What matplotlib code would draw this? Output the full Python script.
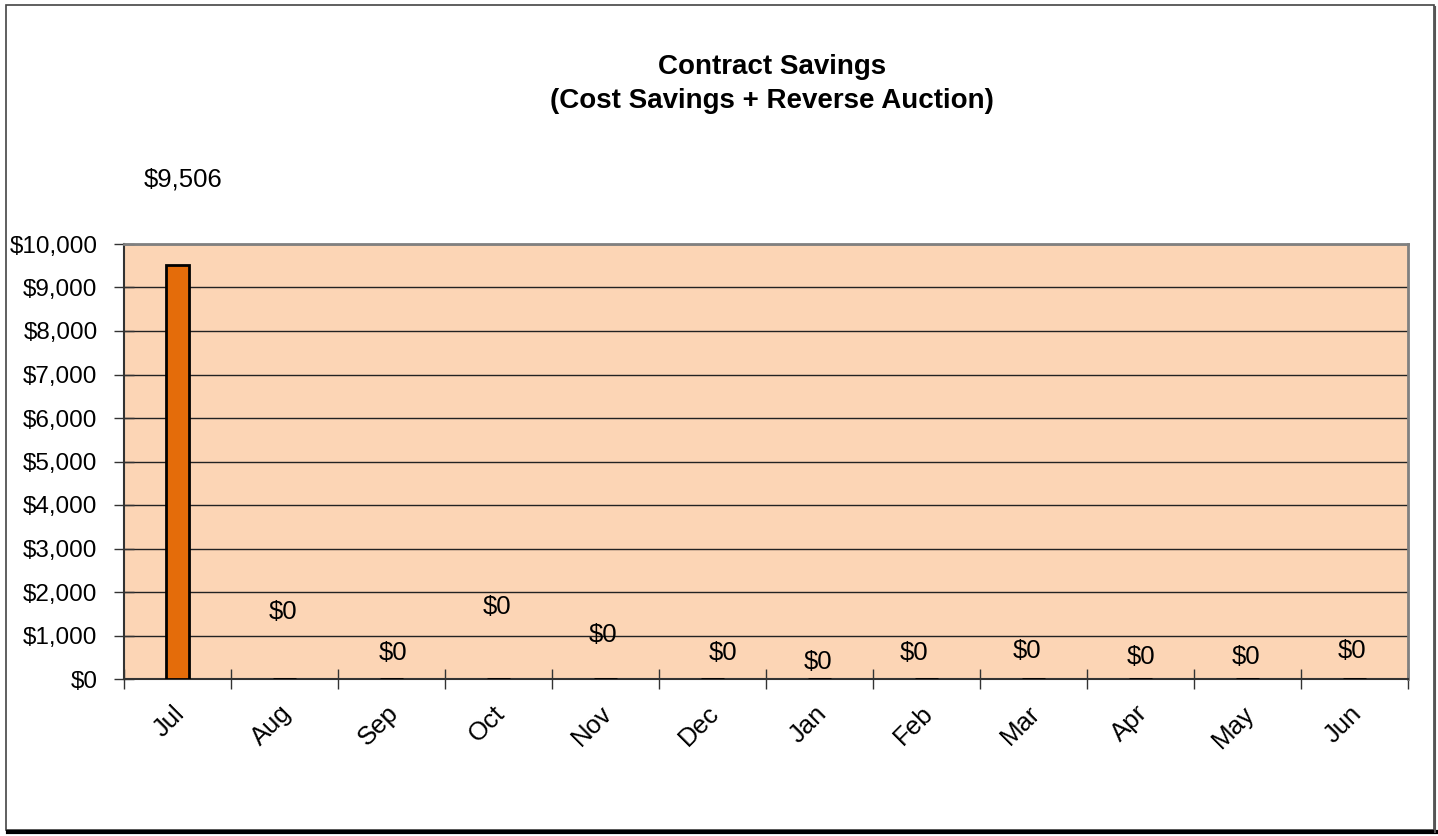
import matplotlib
matplotlib.use("Agg")
import matplotlib.pyplot as plt
import matplotlib.transforms as mtransforms
from matplotlib.lines import Line2D
from matplotlib.patches import Rectangle
from matplotlib.ticker import FuncFormatter, MultipleLocator

months = ["Jul", "Aug", "Sep", "Oct", "Nov", "Dec",
          "Jan", "Feb", "Mar", "Apr", "May", "Jun"]
savings = [9506, 0, 0, 0, 0, 0, 0, 0, 0, 0, 0, 0]
# where Excel left each data label (value units)
label_y = [11480, 1540, 600, 1650, 1010, 600, 390, 600, 650, 510, 510, 650]
label_dx = [0.05, -0.01, 0.01, -0.01, -0.02, 0.1, -0.01, -0.12, -0.06, 0.0, -0.01, -0.02]

plt.rcParams["font.family"] = ["Liberation Sans", "DejaVu Sans"]

fig = plt.figure(figsize=(14.38, 8.36), dpi=100)
ax = fig.add_axes([124 / 1438, 1 - 679 / 836, (1408 - 124) / 1438, (679 - 244) / 836])

x = list(range(len(months)))
ax.bar(x, savings, width=0.22, color="#E46C0A", edgecolor="black", linewidth=2, zorder=3)

for i, (v, ly, dx) in enumerate(zip(savings, label_y, label_dx)):
    ax.text(i + dx, ly, f"${v:,.0f}", ha="center", va="center",
            fontsize=18.5, clip_on=False, zorder=4)

ax.set_xlim(-0.5, len(months) - 0.5)
ax.set_ylim(0, 10000)
ax.set_facecolor("#FCD5B5")
ax.yaxis.set_major_locator(MultipleLocator(1000))
ax.yaxis.set_major_formatter(FuncFormatter(lambda v, _: f"${v:,.0f}"))
ax.grid(axis="y", color="#222222", linewidth=1.0, zorder=1)
ax.set_axisbelow(True)

ax.set_xticks(x)
ax.set_xticklabels(months, rotation=45, ha="right", va="center",
                   rotation_mode="anchor", fontsize=18.5)
ax.set_xticks([i - 0.5 for i in range(len(months) + 1)], minor=True)
ax.tick_params(axis="x", which="major", length=0, pad=22)
ax.tick_params(axis="x", which="minor", direction="inout", length=15,
               width=1, color="#333333")
ax.tick_params(axis="y", direction="inout", length=15, width=1,
               color="#333333", labelsize=17.5, pad=11.5)
shift = mtransforms.ScaledTranslation(3 / 100, 0, fig.dpi_scale_trans)
for lbl in ax.get_xticklabels():
    lbl.set_transform(lbl.get_transform() + shift)

for side in ("left", "bottom"):
    ax.spines[side].set_color("#333333")
    ax.spines[side].set_linewidth(1.5)
for side in ("top", "right"):
    ax.spines[side].set_color("#808080")
    ax.spines[side].set_linewidth(2)

fig.text(772 / 1438, 1 - 84 / 836, "Contract Savings\n(Cost Savings + Reverse Auction)",
         ha="center", va="center", fontsize=20, fontweight="bold", linespacing=1.45)

# chart frame with a drop shadow along the bottom and right edges
fig.patches.append(Rectangle((6 / 1438, 1 - 830 / 836), 1428 / 1438, 825 / 836,
                             transform=fig.transFigure, fill=False,
                             edgecolor="#444444", linewidth=1.2))
fig.lines.append(Line2D([8 / 1438, 1436 / 1438], [1 - 832 / 836] * 2,
                        transform=fig.transFigure, color="black", linewidth=3))
fig.lines.append(Line2D([1435 / 1438] * 2, [1 - 832 / 836, 1 - 7 / 836],
                        transform=fig.transFigure, color="#555555", linewidth=1.5))

fig.savefig("out.png", dpi=100)
